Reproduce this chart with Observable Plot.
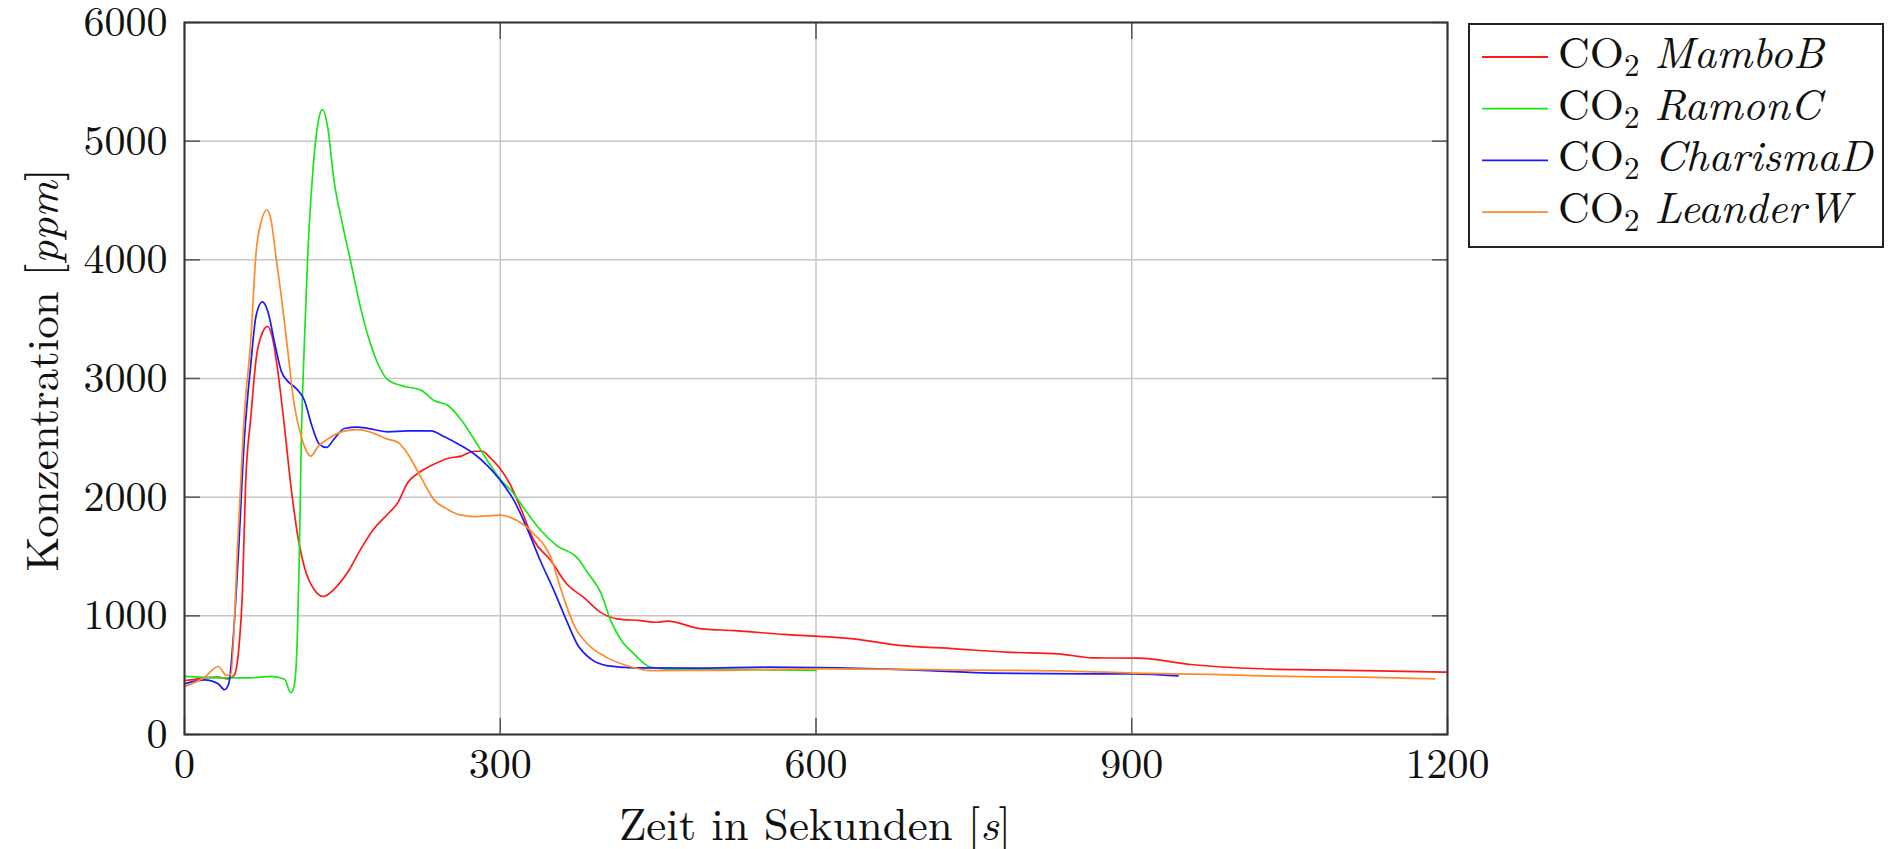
<!DOCTYPE html>
<html><head><meta charset="utf-8">
<script src="https://cdn.jsdelivr.net/npm/d3@7"></script>
<script src="https://cdn.jsdelivr.net/npm/@observablehq/plot@0.6"></script>
<style>
body{margin:0;background:#fff;}
#chart{position:relative;width:1895px;height:849px;}
</style></head><body><div id="chart"></div>
<script>
const FONT = '"Latin Modern Roman","CMU Serif","Liberation Serif","DejaVu Serif",serif';

const seriesNames = ["MamboB", "RamonC", "CharismaD", "LeanderW"];
const seriesColors = ["#ff1a1a", "#19e619", "#1a1aff", "#ff8a2a"];

const xTicks = [0, 300, 600, 900, 1200];
const yTicks = [0, 1000, 2000, 3000, 4000, 5000, 6000];
const xTitle = "Zeit in Sekunden [";
const xTitleUnit = "s";
const yTitle = "Konzentration [";
const yTitleUnit = "ppm";

const mamboT = [0,10,20,32,41,47,52,55,58,63,68,74,79,84,89,95,101,108,114,123,132,142,155,168,180,193,203,212,222,234,250,263,275,283,291,300,310,319,332,348,363,379,395,411,433,449,459,491,522,570,600,636,675,733,781,830,863,907,956,1023,1071,1120,1199];
const mamboV = [455,465,478,483,469,497,764,1185,2100,2672,3162,3386,3440,3325,3040,2591,2101,1652,1408,1224,1163,1224,1367,1571,1734,1856,1958,2122,2203,2264,2326,2346,2387,2387,2326,2240,2098,1916,1635,1466,1270,1157,1031,975,960,946,955,890,876,843,829,806,756,722,694,680,646,643,590,554,545,539,525];

const ramonT = [0,32,63,82,95,101,104,107,109,111,114,117,122,127,131,136,142,149,158,168,177,184,193,206,225,237,250,263,275,288,301,310,323,339,354,373,383,396,405,415,427,443,470,520,600];
const ramonV = [490,478,478,490,465,352,400,760,1470,2500,3325,4019,4753,5161,5265,5120,4670,4345,3980,3570,3285,3120,2990,2940,2900,2815,2775,2650,2490,2305,2140,2060,1900,1715,1590,1490,1365,1185,960,795,680,567,545,548,540];

const charismaT = [0,19,32,38,42,47,51,57,63,68,74,79,86,92,98,106,114,120,128,135,142,152,165,180,193,212,234,247,260,275,288,300,313,325,338,351,363,373,386,401,427,490,553,621,708,766,854,902,944];
const charismaV = [427,461,427,377,427,900,1489,2509,3121,3529,3645,3570,3284,3060,2978,2917,2815,2631,2448,2419,2489,2579,2591,2570,2550,2558,2558,2509,2448,2366,2264,2142,1973,1747,1466,1213,960,763,637,581,562,559,567,562,539,517,511,511,494];

const leanderT = [0,19,32,40,44,51,57,63,68,73,78,82,87,92,98,104,111,116,120,127,136,149,165,180,193,203,212,225,237,250,263,275,300,316,332,348,358,371,383,401,420,443,500,600,723,840,902,975,1047,1120,1188];
const leanderV = [405,483,573,497,511,1693,2713,3325,4060,4325,4420,4345,4019,3692,3244,2795,2509,2387,2346,2428,2489,2550,2570,2538,2489,2460,2366,2162,1979,1897,1848,1836,1848,1803,1690,1494,1213,904,763,650,581,539,540,553,545,534,517,506,489,483,469];

const seriesT = [mamboT, ramonT, charismaT, leanderT];
const seriesV = [mamboV, ramonV, charismaV, leanderV];

const rows = [];
seriesNames.forEach((name, i) => {
  seriesT[i].forEach((t, j) => rows.push({series: name, t, v: seriesV[i][j]}));
});

const tickStroke = "#555";
const gridStroke = "#c6c6c6";
const fmt = d => String(d);

const plot = Plot.plot({
  width: 1895,
  height: 849,
  marginLeft: 184,
  marginRight: 448,
  marginTop: 22,
  marginBottom: 115,
  style: {fontFamily: FONT, background: "white", color: "#111", overflow: "visible"},
  x: {domain: [0, 1200], label: null},
  y: {domain: [0, 6000], label: null},
  color: {domain: seriesNames, range: seriesColors},
  marks: [
    Plot.gridX(xTicks, {stroke: gridStroke, strokeOpacity: 1, strokeWidth: 1.5}),
    Plot.gridY(yTicks, {stroke: gridStroke, strokeOpacity: 1, strokeWidth: 1.5}),
    Plot.axisX(xTicks, {anchor: "bottom", tickSize: -16, fill: "none", stroke: tickStroke, strokeWidth: 1.5, label: null}),
    Plot.axisX(xTicks, {anchor: "top", tickSize: -16, fill: "none", stroke: tickStroke, strokeWidth: 1.5, label: null}),
    Plot.axisY(yTicks, {anchor: "left", tickSize: -16, fill: "none", stroke: tickStroke, strokeWidth: 1.5, label: null}),
    Plot.axisY(yTicks, {anchor: "right", tickSize: -16, fill: "none", stroke: tickStroke, strokeWidth: 1.5, label: null}),
    Plot.line(rows, {x: "t", y: "v", z: "series", stroke: "series", curve: "monotone-x", strokeWidth: 1.7}),
    Plot.axisX(xTicks, {anchor: "bottom", tickSize: 0, tickPadding: 14, fontSize: 42, fill: "#111", tickFormat: fmt, label: null}),
    Plot.axisY(yTicks, {anchor: "left", tickSize: 0, tickPadding: 17, fontSize: 42, fill: "#111", tickFormat: fmt, label: null}),
    Plot.frame({stroke: "#333", strokeWidth: 2})
  ]
});

const svg = d3.select(plot);

// axis titles
const xt = svg.append("text")
  .attr("x", 815).attr("y", 840)
  .attr("text-anchor", "middle")
  .attr("font-family", FONT).attr("font-size", 45).attr("fill", "#111");
xt.append("tspan").text(xTitle);
xt.append("tspan").attr("font-style", "italic").text(xTitleUnit);
xt.append("tspan").text("]");

const yt = svg.append("text")
  .attr("transform", "translate(58,370) rotate(-90)")
  .attr("text-anchor", "middle")
  .attr("font-family", FONT).attr("font-size", 45).attr("fill", "#111");
yt.append("tspan").text(yTitle);
yt.append("tspan").attr("font-style", "italic").text(yTitleUnit);
yt.append("tspan").text("]");

// legend
const lg = svg.append("g").attr("text-anchor", "start");
lg.append("rect").attr("x", 1469).attr("y", 24).attr("width", 414).attr("height", 223)
  .attr("fill", "white").attr("stroke", "#222").attr("stroke-width", 2);
seriesNames.forEach((name, i) => {
  const cy = 57 + i * 51.7;
  lg.append("line").attr("x1", 1482).attr("x2", 1548).attr("y1", cy).attr("y2", cy)
    .attr("stroke", seriesColors[i]).attr("stroke-width", 1.8);
  const t = lg.append("text").attr("x", 1558).attr("y", cy + 11)
    .attr("text-anchor", "start")
    .attr("font-family", FONT).attr("font-size", 44).attr("fill", "#111");
  t.append("tspan").text("CO");
  t.append("tspan").attr("font-size", 31).attr("dy", 8).text("2");
  t.append("tspan").attr("dy", -8).text("\u2009");
  t.append("tspan").attr("font-style", "italic").attr("dx", 6).text(name);
});

document.getElementById("chart").appendChild(plot);
</script>
</body></html>
